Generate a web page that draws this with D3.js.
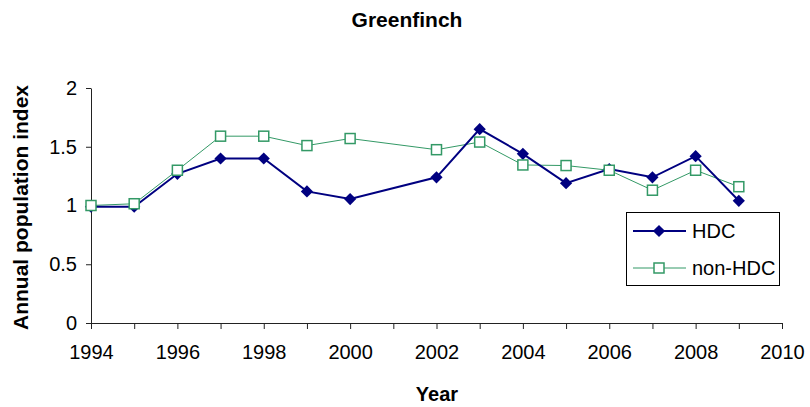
<!DOCTYPE html>
<html>
<head>
<meta charset="utf-8">
<script src="https://cdn.jsdelivr.net/npm/d3@7"></script>
<style>
  html, body { margin: 0; padding: 0; background: #fff; }
  svg { display: block; font-family: "Liberation Sans", Arial, sans-serif; }
</style>
</head>
<body>
<svg id="chart" width="810" height="407"></svg>
<script>
// Greenfinch annual population index, HDC vs non-HDC sites
const years      = [1994, 1995, 1996, 1997, 1998, 1999, 2000, 2002, 2003, 2004, 2005, 2006, 2007, 2008, 2009];
const hdcValues  = [0.99, 0.99, 1.27, 1.40, 1.40, 1.12, 1.055, 1.24, 1.65, 1.44, 1.19, 1.31, 1.24, 1.42, 1.04];
const nonHdcValues = [1.00, 1.015, 1.30, 1.59, 1.59, 1.51, 1.57, 1.475, 1.54, 1.345, 1.34, 1.30, 1.13, 1.30, 1.16];
const xTickLabels = [1994, 1996, 1998, 2000, 2002, 2004, 2006, 2008, 2010];
const yTickLabels = [0, 0.5, 1, 1.5, 2];
const seriesNames = ["HDC", "non-HDC"];

const svg = d3.select("#chart");
const plotLeft = 91, plotRight = 782, plotTop = 88, plotBottom = 323;
const fontFamily = "'Liberation Sans', Arial, sans-serif";

const x = d3.scaleLinear().domain([1994, 2010]).range([plotLeft, plotRight]);
const y = d3.scaleLinear().domain([0, 2]).range([plotBottom, plotTop]);

// title
svg.append("text").attr("x", 407).attr("y", 27).attr("text-anchor", "middle")
  .attr("font-size", 21).attr("font-weight", "bold").text("Greenfinch");

// x axis: tick every year, labels every second year
const xAxis = d3.axisBottom(x)
  .tickValues(d3.range(1994, 2011))
  .tickSize(6).tickSizeOuter(0)
  .tickFormat(d => xTickLabels.includes(d) ? String(d) : "");
const gx = svg.append("g").attr("transform", `translate(0,${plotBottom})`).call(xAxis);
gx.select(".domain").attr("stroke", "#222");
gx.selectAll(".tick line").attr("stroke", "#222");
gx.selectAll(".tick text").attr("font-size", 20).attr("fill", "#000")
  .attr("y", 36).attr("dy", 0).attr("font-family", fontFamily);

// y axis
const yAxis = d3.axisLeft(y).tickValues(yTickLabels).tickSize(5).tickSizeOuter(0)
  .tickFormat(d3.format("~g"));
const gy = svg.append("g").attr("transform", `translate(${plotLeft},0)`).call(yAxis);
gy.select(".domain").attr("stroke", "#222");
gy.selectAll(".tick line").attr("stroke", "#222");
gy.selectAll(".tick text").attr("font-size", 20).attr("fill", "#000").attr("x", -14)
  .attr("font-family", fontFamily);

// axis titles
svg.append("text").attr("x", 437).attr("y", 401).attr("text-anchor", "middle")
  .attr("font-size", 20).attr("font-weight", "bold").text("Year");
svg.append("text").attr("transform", `translate(28,${(plotTop + plotBottom) / 2 + 2}) rotate(-90)`)
  .attr("text-anchor", "middle").attr("font-size", 21).attr("font-weight", "bold")
  .text("Annual population index");

const line = d3.line().x(d => x(d[0])).y(d => y(d[1]));
const hdc = years.map((yr, i) => [yr, hdcValues[i]]);
const nonHdc = years.map((yr, i) => [yr, nonHdcValues[i]]);

const navy = "#000080", green = "#339966";
const diamond = d3.symbol().type(d3.symbolDiamond2).size(95);
const sq = 10;

// non-HDC series (drawn first, underneath)
svg.append("path").datum(nonHdc).attr("d", line).attr("fill", "none")
  .attr("stroke", green).attr("stroke-width", 1);
// HDC series
svg.append("path").datum(hdc).attr("d", line).attr("fill", "none")
  .attr("stroke", navy).attr("stroke-width", 2);
svg.selectAll(".dia").data(hdc).join("path").attr("class", "dia")
  .attr("transform", d => `translate(${x(d[0])},${y(d[1])})`)
  .attr("d", diamond).attr("fill", navy);
svg.selectAll(".sq").data(nonHdc).join("rect").attr("class", "sq")
  .attr("x", d => x(d[0]) - sq / 2).attr("y", d => y(d[1]) - sq / 2)
  .attr("width", sq).attr("height", sq)
  .attr("fill", "#fff").attr("stroke", green).attr("stroke-width", 1.5);

// legend
const lg = svg.append("g");
lg.append("rect").attr("x", 626.5).attr("y", 212.5).attr("width", 153).attr("height", 73)
  .attr("fill", "#fff").attr("stroke", "#000").attr("stroke-width", 1);
const rows = [{ name: seriesNames[0], y: 231 }, { name: seriesNames[1], y: 268 }];
lg.append("line").attr("x1", 633).attr("x2", 686).attr("y1", rows[0].y).attr("y2", rows[0].y)
  .attr("stroke", navy).attr("stroke-width", 2);
lg.append("path").attr("transform", `translate(659,${rows[0].y})`).attr("d", diamond).attr("fill", navy);
lg.append("line").attr("x1", 633).attr("x2", 686).attr("y1", rows[1].y).attr("y2", rows[1].y)
  .attr("stroke", green).attr("stroke-width", 1);
lg.append("rect").attr("x", 659 - sq / 2).attr("y", rows[1].y - sq / 2).attr("width", sq).attr("height", sq)
  .attr("fill", "#fff").attr("stroke", green).attr("stroke-width", 1.5);
rows.forEach(r => {
  lg.append("text").attr("x", 692).attr("y", r.y).attr("dy", "0.35em")
    .attr("font-size", 20).text(r.name);
});
</script>
</body>
</html>
